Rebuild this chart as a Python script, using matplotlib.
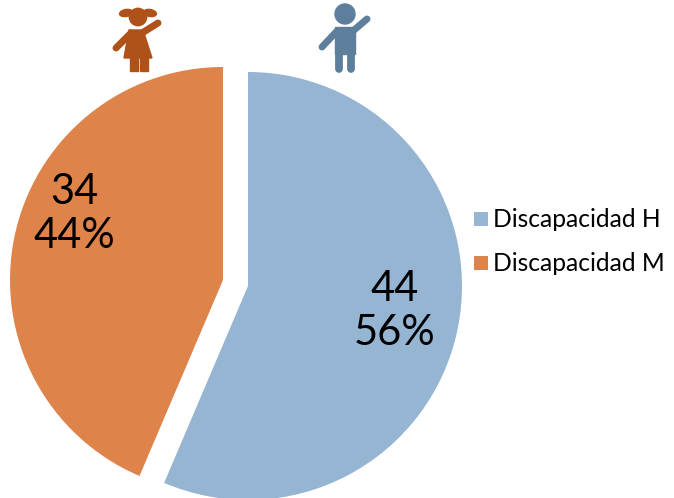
import matplotlib
matplotlib.use("Agg")
import matplotlib.pyplot as plt
from matplotlib.patches import Circle, Ellipse, Polygon, Rectangle, Wedge

labels = ["Discapacidad H", "Discapacidad M"]
values = [44, 34]
percents = ["56%", "44%"]
colors = ["#95B5D3", "#DE8349"]

plt.rcParams["font.family"] = ["Lato", "DejaVu Sans"]

W, H = 674, 498
fig = plt.figure(figsize=(W / 100, H / 100), dpi=100)
ax = fig.add_axes([0, 0, 1, 1])
ax.set_xlim(0, W)
ax.set_ylim(H, 0)
ax.axis("off")

total = sum(values)
# clockwise from 12 o'clock, -90 is up on the flipped axis
h_end = -90 + 360 * values[0] / total
ax.add_patch(Wedge((248, 286), 214, -90, h_end, facecolor=colors[0], edgecolor="none"))
ax.add_patch(Wedge((223, 280), 213, h_end, 270, facecolor=colors[1], edgecolor="none"))

ax.text(395, 311, f"{values[0]}\n{percents[0]}", fontsize=30, ha="center", va="center", color="black", linespacing=1.2)
ax.text(74, 214, f"{values[1]}\n{percents[1]}", fontsize=30, ha="center", va="center", color="black", linespacing=1.2)

# legend
for y, lab, col in zip([219, 263], labels, colors):
    ax.add_patch(Rectangle((474, y - 7), 14, 14, facecolor=col, edgecolor="none"))
    ax.text(493, y, lab, fontsize=17.7, va="center", ha="left", color="black")

# girl icon
girl = "#AE5219"
ax.add_patch(Circle((138, 17), 8.7, color=girl))
ax.add_patch(Ellipse((126, 13), 13, 7, angle=-10, color=girl))
ax.add_patch(Ellipse((150, 13), 13, 7, angle=10, color=girl))
ax.add_patch(Polygon([(129, 30), (143, 30), (152, 58), (124, 58)], color=girl))
ax.plot([131, 116], [33, 48], color=girl, lw=5, solid_capstyle="round")
ax.plot([142, 158], [33, 23], color=girl, lw=5, solid_capstyle="round")
ax.add_patch(Rectangle((130, 57), 7.5, 14, color=girl))
ax.add_patch(Rectangle((140, 57), 7.5, 14, color=girl))

# boy icon
boy = "#5E7F9C"
ax.add_patch(Circle((345, 14), 10, color=boy))
ax.add_patch(Rectangle((335, 27), 20, 27, color=boy))
ax.plot([337, 322], [31, 47], color=boy, lw=5, solid_capstyle="round")
ax.plot([353, 367], [31, 19], color=boy, lw=5, solid_capstyle="round")
ax.plot([339, 339], [50, 69], color=boy, lw=5.6, solid_capstyle="round")
ax.plot([351, 351], [50, 69], color=boy, lw=5.6, solid_capstyle="round")

fig.savefig("out.png", dpi=100)
